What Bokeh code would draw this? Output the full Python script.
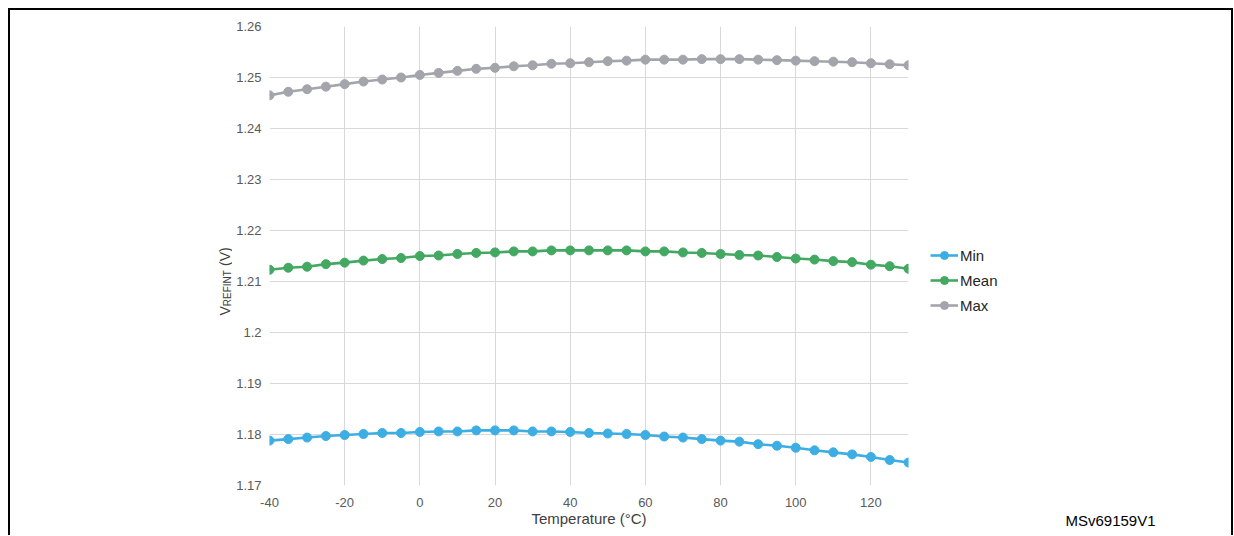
import math
from bokeh.plotting import figure
from bokeh.layouts import row
from bokeh.models import (ColumnDataSource, Range1d, FixedTicker, CustomJSTickFormatter,
                          Legend, LegendItem, Label)
from bokeh.embed import file_html
from bokeh.resources import INLINE

temperature = [-40, -35, -30, -25, -20, -15, -10, -5, 0, 5, 10, 15, 20, 25, 30, 35, 40, 45, 50,
               55, 60, 65, 70, 75, 80, 85, 90, 95, 100, 105, 110, 115, 120, 125, 130]

v_min = [1.1788, 1.1791, 1.1794, 1.1797, 1.1799, 1.1801, 1.1803, 1.1803, 1.1805, 1.1806, 1.1806,
         1.1808, 1.1808, 1.1808, 1.1806, 1.1806, 1.1805, 1.1803, 1.1802,
         1.1801, 1.1799, 1.1796, 1.1794, 1.1791, 1.1788, 1.1786, 1.1781, 1.1778, 1.1774, 1.1769,
         1.1765, 1.1761, 1.1756, 1.1750, 1.1745]

v_mean = [1.2123, 1.2127, 1.2129, 1.2134, 1.2137, 1.2141, 1.2144, 1.2146, 1.2150, 1.2151, 1.2154,
          1.2156, 1.2157, 1.2159, 1.2159, 1.2161, 1.2161, 1.2161, 1.2161,
          1.2161, 1.2159, 1.2159, 1.2157, 1.2156, 1.2154, 1.2152, 1.2151, 1.2148, 1.2145, 1.2143,
          1.2140, 1.2138, 1.2133, 1.2130, 1.2125]

v_max = [1.2465, 1.2472, 1.2477, 1.2482, 1.2487, 1.2492, 1.2496, 1.2500, 1.2505, 1.2509, 1.2513,
         1.2517, 1.2519, 1.2522, 1.2524, 1.2527, 1.2528, 1.2530, 1.2532,
         1.2533, 1.2535, 1.2535, 1.2535, 1.2536, 1.2536, 1.2536, 1.2535, 1.2534, 1.2533, 1.2532,
         1.2531, 1.2530, 1.2528, 1.2526, 1.2524]

series_names = ["Min", "Mean", "Max"]
series_colors = ["#3DAEE3", "#43A861", "#A4A4AC"]
series_values = [v_min, v_mean, v_max]

x_ticks = [-40, -20, 0, 20, 40, 60, 80, 100, 120]
y_ticks = [1.17, 1.18, 1.19, 1.20, 1.21, 1.22, 1.23, 1.24, 1.25, 1.26]

FONT = "Liberation Sans"
H = 525
TOTAL_W = 1221
LEFT_W = 222
MAIN_BL, MAIN_BR = 37, 10
FRAME_W, FRAME_H = 639, 459
MAIN_W = MAIN_BL + FRAME_W + MAIN_BR
RIGHT_W = TOTAL_W - LEFT_W - MAIN_W


def blank(width, x0=0):
    f = figure(width=width, height=H, x_axis_type=None, y_axis_type=None,
               min_border=0, output_backend="svg", toolbar_location=None,
               x_range=Range1d(x0, x0 + width), y_range=Range1d(0, H))
    f.outline_line_color = None
    f.grid.visible = False
    f.frame_align = False
    return f


# ---------- left panel: y-axis title with subscript ----------
left = blank(LEFT_W)
mid_x = 214
left.add_layout(Label(x=mid_x, y=220, x_units="screen", y_units="screen", text="V",
                      angle=math.pi / 2, text_align="left", text_baseline="middle",
                      text_font=FONT, text_font_size="14px", text_color="#404040"))
left.add_layout(Label(x=mid_x + 3, y=229.3, x_units="screen", y_units="screen", text="REFINT",
                      angle=math.pi / 2, text_align="left", text_baseline="middle",
                      text_font=FONT, text_font_size="10px", text_color="#404040"))
left.add_layout(Label(x=mid_x, y=269.5, x_units="screen", y_units="screen", text="(V)",
                      angle=math.pi / 2, text_align="left", text_baseline="middle",
                      text_font=FONT, text_font_size="14px", text_color="#404040"))

# ---------- main chart ----------
p = figure(frame_width=FRAME_W, frame_height=FRAME_H,
           min_border_left=MAIN_BL, min_border_right=MAIN_BR, min_border_top=16,
           min_border_bottom=H - 16 - FRAME_H,
           x_range=Range1d(-40, 130), y_range=Range1d(1.17, 1.26),
           output_backend="svg", toolbar_location=None)
p.outline_line_color = None
p.frame_align = False

p.xaxis.ticker = FixedTicker(ticks=x_ticks)
p.xaxis.formatter = CustomJSTickFormatter(code="return String(Math.round(tick));")
p.yaxis.ticker = FixedTicker(ticks=y_ticks)
p.yaxis.formatter = CustomJSTickFormatter(code="return (Math.round(tick*100)/100).toString();")
for ax in (p.xaxis[0], p.yaxis[0]):
    ax.axis_line_color = None
    ax.major_tick_line_color = None
    ax.minor_tick_line_color = None
    ax.major_tick_out = 0
    ax.major_tick_in = 0
    ax.minor_tick_out = 0
    ax.minor_tick_in = 0
    ax.major_label_text_font = FONT
    ax.major_label_text_font_size = "13px"
    ax.major_label_text_color = "#595959"
p.yaxis.major_label_standoff = 8
p.xaxis.major_label_standoff = 12
p.xaxis.axis_label = "Temperature (°C)"
p.xaxis.axis_label_text_font = FONT
p.xaxis.axis_label_text_font_size = "15px"
p.xaxis.axis_label_text_font_style = "normal"
p.xaxis.axis_label_text_color = "#404040"
p.xaxis.axis_label_standoff = 0

p.xgrid.ticker = FixedTicker(ticks=x_ticks)
p.ygrid.ticker = FixedTicker(ticks=y_ticks)
p.xgrid.grid_line_color = "#D9D9D9"
p.ygrid.grid_line_color = "#D9D9D9"

for name, vals, col in zip(series_names, series_values, series_colors):
    src = ColumnDataSource(dict(x=temperature, y=vals))
    p.line("x", "y", source=src, line_color=col, line_width=2.6)
    p.scatter("x", "y", source=src, size=9, fill_color=col, line_color=col)

# ---------- right panel: legend + figure code ----------
# ranges start far away so the legend proxy renderers draw nothing in this panel
right = blank(RIGHT_W, x0=1000)
items = []
for name, vals, col in zip(series_names, series_values, series_colors):
    src = ColumnDataSource(dict(x=temperature, y=vals))
    r1 = right.line("x", "y", source=src, line_color=col, line_width=2.6)
    r2 = right.scatter("x", "y", source=src, size=9, fill_color=col, line_color=col)
    items.append(LegendItem(label=name, renderers=[r1, r2]))
legend = Legend(items=items, location=(12, 220), orientation="vertical",
                background_fill_alpha=0, border_line_alpha=0, padding=0, margin=0,
                glyph_width=28, glyph_height=20, spacing=5, label_standoff=2,
                label_text_font=FONT, label_text_font_size="15px", label_text_color="#262626")
right.add_layout(legend, "center")
right.add_layout(Label(x=1100 - (LEFT_W + MAIN_W), y=15,
                       x_units="screen", y_units="screen", text="MSv69159V1",
                       text_align="center", text_baseline="middle",
                       text_font=FONT, text_font_size="15px", text_color="#000000"))

layout = row(left, p, right)
layout.styles = {"margin-top": "8px", "margin-left": "8px",
                 "border-top": "2px solid black", "border-left": "2px solid black",
                 "border-right": "2px solid black"}

open("out.html", "w").write(file_html(layout, INLINE))
